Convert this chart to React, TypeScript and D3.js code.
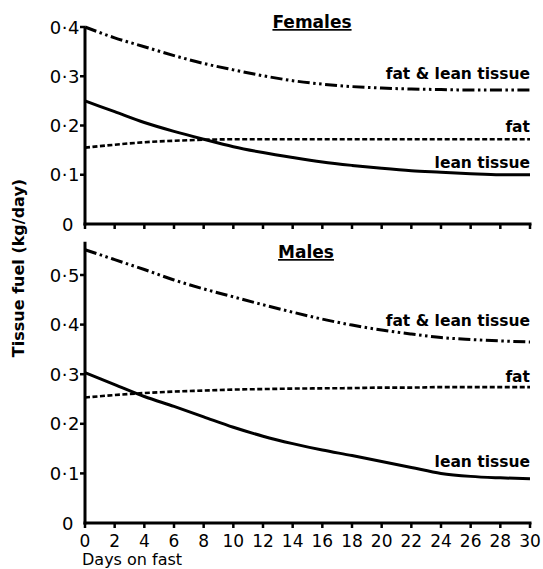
import React from "react";
import * as d3 from "d3";

const days = [0, 2, 4, 6, 8, 10, 12, 14, 16, 18, 20, 22, 24, 26, 28, 30];

const femalesTotal = [0.4, 0.378, 0.36, 0.342, 0.326, 0.313, 0.301, 0.291, 0.284, 0.279, 0.276, 0.274, 0.273, 0.272, 0.272, 0.272];
const femalesFat = [0.155, 0.161, 0.166, 0.169, 0.171, 0.172, 0.172, 0.172, 0.172, 0.172, 0.172, 0.172, 0.172, 0.172, 0.172, 0.172];
const femalesLean = [0.25, 0.228, 0.206, 0.188, 0.172, 0.157, 0.145, 0.135, 0.126, 0.119, 0.113, 0.108, 0.105, 0.102, 0.1, 0.1];

const malesTotal = [0.551, 0.531, 0.511, 0.49, 0.472, 0.456, 0.44, 0.425, 0.411, 0.399, 0.389, 0.381, 0.374, 0.37, 0.367, 0.365];
const malesFat = [0.253, 0.258, 0.262, 0.265, 0.267, 0.269, 0.27, 0.271, 0.2715, 0.272, 0.273, 0.273, 0.274, 0.274, 0.274, 0.274];
const malesLean = [0.303, 0.279, 0.255, 0.235, 0.214, 0.193, 0.175, 0.16, 0.147, 0.136, 0.124, 0.112, 0.1, 0.094, 0.091, 0.089];

const xTicks = [0, 2, 4, 6, 8, 10, 12, 14, 16, 18, 20, 22, 24, 26, 28, 30];
const femalesYTicks = [0, 0.1, 0.2, 0.3, 0.4];
const malesYTicks = [0, 0.1, 0.2, 0.3, 0.4, 0.5];

const seriesLabels = ["fat & lean tissue", "fat", "lean tissue"];

const FONT = "'DejaVu Sans', sans-serif";

const fmt = (v: number) => (v === 0 ? "0" : "0·" + Math.round(v * 10));

const x = d3.scaleLinear().domain([0, 30]).range([85, 530]);

type PanelProps = {
  title: string;
  yScale: d3.ScaleLinear<number, number>;
  ticks: number[];
  yMax: number;
  total: number[];
  fat: number[];
  lean: number[];
  labelY: number[];
  titleX: number;
  titleY: number;
};

function Panel(p: PanelProps) {
  const line = (vals: number[]) =>
    d3
      .line<number>()
      .x((_, i) => x(days[i]))
      .y((v) => p.yScale(v))
      .curve(d3.curveMonotoneX)(vals) || "";
  const y0 = p.yScale(0);
  return (
    <g>
      <path d={line(p.total)} fill="none" stroke="#000" strokeWidth={3} strokeDasharray="12,3.5,2.5,3.5,2.5,3.5" />
      <path d={line(p.fat)} fill="none" stroke="#000" strokeWidth={2.6} strokeDasharray="5,2.5" />
      <path d={line(p.lean)} fill="none" stroke="#000" strokeWidth={3} />
      <line x1={x(0)} x2={x(0)} y1={p.yScale(p.yMax)} y2={y0 + 1.5} stroke="#000" strokeWidth={3} />
      <line x1={x(0) - 1.5} x2={x(30) + 1.5} y1={y0} y2={y0} stroke="#000" strokeWidth={3} />
      {xTicks.map((t) => (
        <line key={t} x1={x(t)} x2={x(t)} y1={y0} y2={y0 + 5} stroke="#000" strokeWidth={2.5} />
      ))}
      {p.ticks.map((t) => (
        <g key={t}>
          {t > 0 && <line x1={x(0) - 5} x2={x(0)} y1={p.yScale(t)} y2={p.yScale(t)} stroke="#000" strokeWidth={2.5} />}
          <text
            x={t === 0 ? 74 : 80}
            y={p.yScale(t) + 6.5}
            textAnchor="end"
            fontFamily={FONT}
            fontSize={18}
            letterSpacing={0.5}
          >
            {fmt(t)}
          </text>
        </g>
      ))}
      <text x={p.titleX} y={p.titleY} textAnchor="middle" fontFamily={FONT} fontSize={17} fontWeight="bold" textDecoration="underline">
        {p.title}
      </text>
      {seriesLabels.map((s, i) => (
        <text key={s} x={530} y={p.labelY[i]} textAnchor="end" fontFamily={FONT} fontSize={15.5} fontWeight="bold">
          {s}
        </text>
      ))}
    </g>
  );
}

export default function App() {
  const yF = d3.scaleLinear().domain([0, 0.4]).range([224, 27]);
  const yM = d3.scaleLinear().domain([0, 0.5]).range([523, 275]);
  return (
    <svg width={543} height={569} style={{ position: "absolute", left: 0, top: 0, background: "#fff" }}>
      <rect width={543} height={569} fill="#fff" />
      <Panel
        title="Females"
        yScale={yF}
        ticks={femalesYTicks}
        yMax={0.4}
        total={femalesTotal}
        fat={femalesFat}
        lean={femalesLean}
        labelY={[79, 132, 168]}
        titleX={312}
        titleY={28}
      />
      <Panel
        title="Males"
        yScale={yM}
        ticks={malesYTicks}
        yMax={0.567}
        total={malesTotal}
        fat={malesFat}
        lean={malesLean}
        labelY={[326, 382, 467]}
        titleX={306}
        titleY={258}
      />
      {xTicks.map((t) => (
        <text key={t} x={x(t)} y={547} textAnchor="middle" fontFamily={FONT} fontSize={17}>
          {t}
        </text>
      ))}
      <text x={82} y={565} fontFamily={FONT} fontSize={16}>
        Days on fast
      </text>
      <text
        transform="translate(24,268) rotate(-90)"
        textAnchor="middle"
        fontFamily={FONT}
        fontSize={16}
        fontWeight="bold"
      >
        Tissue fuel (kg/day)
      </text>
    </svg>
  );
}
